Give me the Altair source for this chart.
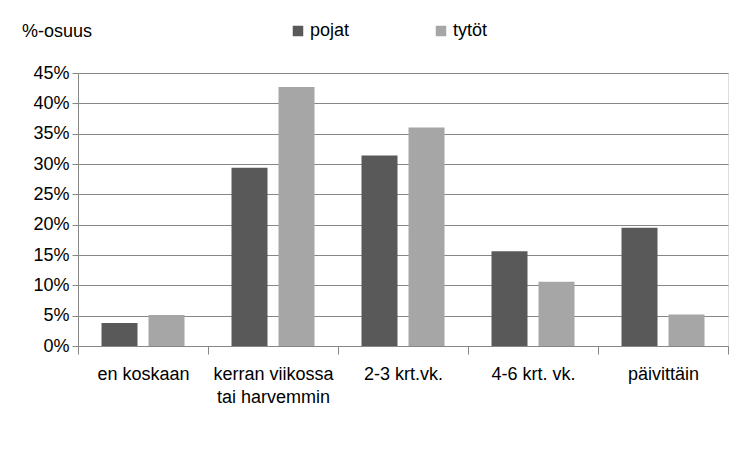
import altair as alt
import pandas as pd

categories = ["en koskaan", "kerran viikossa\ntai harvemmin", "2-3 krt.vk.", "4-6 krt. vk.", "päivittäin"]
series = ["pojat", "tytöt"]
pojat = [3.8, 29.4, 31.4, 15.6, 19.5]
tytot = [5.1, 42.7, 36.0, 10.6, 5.2]
colors = ["#595959", "#a6a6a6"]

rows = []
for c, p, t in zip(categories, pojat, tytot):
    rows.append({"cat": c, "sarja": "pojat", "v": p / 100})
    rows.append({"cat": c, "sarja": "tytöt", "v": t / 100})
df = pd.DataFrame(rows)

FONT = "Liberation Sans"
FS = 18
W, H = 650, 273

bars = alt.Chart(df).mark_bar().encode(
    x=alt.X("cat:N", sort=categories, title=None,
            scale=alt.Scale(paddingInner=0, paddingOuter=0),
            axis=alt.Axis(labelAngle=0, tickBand="extent", tickSize=8, tickColor="#868686",
                          domainColor="#868686", labelFontSize=FS, labelFont=FONT,
                          labelColor="#000000", labelPadding=11, labelLineHeight=23,
                          labelExpr="split(datum.label, '\\n')", grid=False,
                          labelLimit=200)),
    xOffset=alt.XOffset("sarja:N", sort=series,
                        scale=alt.Scale(paddingInner=0.234, paddingOuter=0.5)),
    y=alt.Y("v:Q", title=None, scale=alt.Scale(domain=[0, 0.45], nice=False),
            axis=alt.Axis(format=".0%", values=[i / 100 for i in range(0, 50, 5)],
                          tickSize=6, tickColor="#868686", domainColor="#868686",
                          gridColor="#868686", labelFontSize=FS, labelFont=FONT,
                          labelColor="#000000", labelPadding=3)),
    color=alt.Color("sarja:N", sort=series, scale=alt.Scale(domain=series, range=colors),
                    legend=alt.Legend(title=None, orient="none", direction="horizontal",
                                      legendX=211, legendY=-51, symbolType="square",
                                      symbolSize=110, symbolStrokeWidth=0,
                                      labelFontSize=FS, labelFont=FONT, labelColor="#000000",
                                      columnPadding=82, labelOffset=3)),
)

title = alt.Chart(pd.DataFrame({"t": ["%-osuus"]})).mark_text(
    align="left", baseline="middle", fontSize=FS, font=FONT, color="#000000"
).encode(text="t:N", x=alt.value(-56), y=alt.value(-41))

chart = alt.layer(bars, title).properties(
    width=W, height=H,
    autosize=alt.AutoSizeParams(type="none"),
    padding={"left": 70, "top": 65, "right": 10, "bottom": 95},
).configure_view(stroke=None).configure(background="white")

chart.save("out.html", embed_options={"renderer": "svg", "actions": False})
